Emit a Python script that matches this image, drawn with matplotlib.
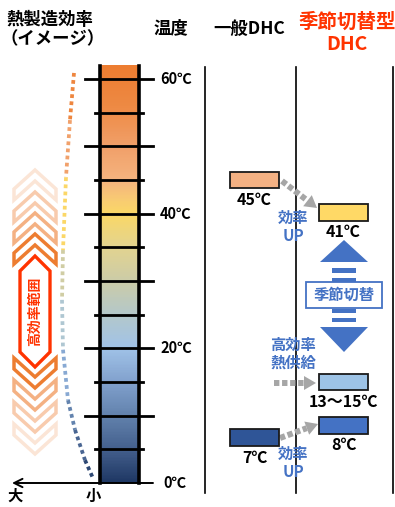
import matplotlib.pyplot as plt
import numpy as np
from matplotlib.patches import Polygon, Rectangle
from matplotlib.colors import LinearSegmentedColormap, Normalize
from matplotlib.collections import LineCollection

plt.rcParams['font.family'] = ['Noto Sans CJK JP', 'DejaVu Sans']

#==============================
# data

# temperature scale
major_temps = [0, 10, 20, 30, 40, 50, 60]
major_labels = ['0℃', '', '20℃', '', '40℃', '', '60℃']
minor_temps = [5, 15, 25, 35, 45, 55]
bar_top = 62

# colour of the temperature bar
grad_t = [0, 5, 10, 15, 20, 25, 30, 35, 40, 42, 45, 50, 56, 62]
grad_c = ['#1F3864', '#45618E', '#6383AE', '#82A2CE', '#A1C3E8', '#B4C8CA',
          '#CCCCA8', '#E3D490', '#FBD866', '#F9CC72', '#F5B47F', '#F1A06A',
          '#EE8A44', '#ED7D31']

# efficiency curve (image), x in px and temperature
curve_x = [74, 70, 66, 63, 62, 63, 68, 75, 85, 93]
curve_t = [60.9, 53.9, 45.4, 34.6, 27.2, 19.8, 12.3, 7.9, 3.4, 0.7]

# supply temperatures
box_labels = ['45℃', '41℃', '13～15℃', '8℃', '7℃']
box_temps = [45, 41, 14, 8, 7]
box_center = [45.0, 40.2, 15.0, 8.6, 6.7]
box_column = ['一般DHC', '季節切替型', '季節切替型', '季節切替型', '一般DHC']
box_colors = ['#F4B183', '#FFD966', '#9DC3E6', '#4472C4', '#2F5597']

columns = {'一般DHC': 230, '季節切替型': 319}

# chevrons
chev_up_y = [170, 192, 213, 234]
chev_up_c = ['#FBE5D6', '#F8CBAD', '#F4B183', '#ED7D31']
chev_dn_y = [388, 410, 432, 454]
chev_dn_c = ['#ED7D31', '#F4B183', '#F8CBAD', '#FBE5D6']

BLUE = '#4472C4'
RED = '#FF3300'
GRAY = '#A6A6A6'

#==============================

Y0 = 483        # pixel row of 0℃
PX = 6.733      # pixels per ℃
W, H = 395, 507

fig = plt.figure(figsize=(W / 100, H / 100), dpi=100)
ax = fig.add_axes([0, 0, 1, 1])   # pixel layout
ax.set_xlim(0, W)
ax.set_ylim(H, 0)
ax.axis('off')
axt = fig.add_axes([0, 0, 1, 1])  # temperature axis
axt.set_xlim(0, W)
axt.set_ylim((Y0 - H) / PX, Y0 / PX)
axt.axis('off')

# headers
hdr = dict(fontsize=12.5, weight='bold', va='center')
ax.text(6, 20, '熱製造効率', ha='left', **hdr)
ax.text(1, 39, '（イメージ）', ha='left', **hdr)
ax.text(171, 28, '温度', ha='center', **hdr)
ax.text(249, 29, '一般DHC', ha='center', **hdr)
ax.text(347, 22, '季節切替型', ha='center', color=RED, fontsize=14,
        weight='bold', va='center')
ax.text(347, 44, 'DHC', ha='center', color=RED, fontsize=14,
        weight='bold', va='center')

# column lines
for x in [205, 296, 393]:
    ax.plot([x, x], [67, 493], color='k', lw=1.2)

# temperature bar
cmap = LinearSegmentedColormap.from_list(
    'temp', [(t / bar_top, c) for t, c in zip(grad_t, grad_c)])
norm = Normalize(0, bar_top)
grad = np.linspace(0, bar_top, 400).reshape(-1, 1)
axt.imshow(grad, extent=[100, 139, 0, bar_top], origin='lower', aspect='auto',
           cmap=cmap, norm=norm, zorder=1)
for x in [100, 139]:
    axt.plot([x, x], [0, bar_top], color='k', lw=2.6, zorder=3)
for t, lab in zip(major_temps, major_labels):
    if t > 0:
        axt.plot([85, 153], [t, t], color='k', lw=2, zorder=3)
    if lab:
        axt.text(160 if t else 163, t, lab, ha='left', va='center',
                 fontsize=10.5, weight='bold')
for t in minor_temps:
    axt.plot([95, 143], [t, t], color='k', lw=2, zorder=3)

# efficiency axis
axt.annotate('', xy=(12, 0), xytext=(153, 0),
             arrowprops=dict(arrowstyle='->, head_length=0.6, head_width=0.3',
                             mutation_scale=10, lw=1.4, color='k',
                             shrinkA=0, shrinkB=0), zorder=4)
ax.text(15, 496, '大', ha='center', va='center', fontsize=11, weight='bold')
ax.text(93, 496, '小', ha='center', va='center', fontsize=11, weight='bold')

# dotted efficiency curve
pts = np.column_stack([curve_x, curve_t])
segs = [pts[i:i + 2] for i in range(len(pts) - 1)]
cols = [cmap(norm((curve_t[i] + curve_t[i + 1]) / 2)) for i in range(len(segs))]
axt.add_collection(LineCollection(segs, colors=cols, linewidths=2.7,
                                  linestyles=[(0, (1, 0.9))], capstyle='butt'))

# chevrons
cx, w, h, d = 35, 21, 19, 11
for a, c in zip(chev_up_y, chev_up_c):
    ax.add_patch(Polygon([(cx - w, a + h), (cx, a), (cx + w, a + h),
                          (cx + w, a + h + d), (cx, a + d), (cx - w, a + h + d)],
                         closed=True, fc='white', ec=c, lw=2.5))
for b, c in zip(chev_dn_y, chev_dn_c):
    ax.add_patch(Polygon([(cx - w, b - h - d), (cx, b - d), (cx + w, b - h - d),
                          (cx + w, b - h), (cx, b), (cx - w, b - h)],
                         closed=True, fc='white', ec=c, lw=2.5))
ax.add_patch(Polygon([(35, 256), (50, 271), (50, 352), (35, 367), (20, 352),
                      (20, 271)], closed=True, fc='white', ec=RED, lw=2.4))
ax.text(35, 311, '高効率範囲', rotation=90, ha='center', va='center',
        color=RED, fontsize=10, weight='bold')

# supply temperature boxes
bh = 2.5
for lab, tc, col, fc in zip(box_labels, box_center, box_column, box_colors):
    x0 = columns[col]
    axt.add_patch(Rectangle((x0, tc - bh / 2), 48.5, bh, fc=fc, ec='#1A1A1A',
                            lw=1.3, zorder=5))
    axt.text(x0 + 24.5, tc - 2.95, lab, ha='center', va='center',
             fontsize=11.5, weight='bold', zorder=5)

# gray dashed arrows
def gray_arrow(p0, p1, hl=12, hw=7):
    p0, p1 = np.array(p0, float), np.array(p1, float)
    u = (p1 - p0) / np.hypot(*(p1 - p0))
    n = np.array([-u[1], u[0]])
    base = p1 - u * hl
    ax.plot([p0[0], base[0]], [p0[1], base[1]], color=GRAY, lw=4.3,
            linestyle=(0, (0.9, 0.45)), solid_capstyle='butt',
            dash_capstyle='butt', zorder=4)
    ax.add_patch(Polygon([p1, base + n * hw, base - n * hw], closed=True,
                         fc=GRAY, ec='none', zorder=4))

gray_arrow((282, 181), (317, 208))
gray_arrow((274, 383), (316, 383))
gray_arrow((280, 438), (318, 424))

# blue notes
note = dict(color=BLUE, fontsize=11, weight='bold', ha='center', va='center',
            zorder=6)
ax.text(293, 218, '効率', **note)
ax.text(293, 236, 'UP', **note)
ax.text(293, 345, '高効率', **note)
ax.text(293, 363, '熱供給', **note)
ax.text(293, 454, '効率', **note)
ax.text(293, 472, 'UP', **note)

# seasonal switch double arrow
ax.add_patch(Polygon([(320, 262), (344, 240), (368, 262)], closed=True,
                     fc=BLUE, ec='none'))
ax.add_patch(Polygon([(320, 327), (344, 352), (368, 327)], closed=True,
                     fc=BLUE, ec='none'))
for y0, y1 in [(268, 272.5), (277.5, 282), (309, 313), (317.5, 321.5)]:
    ax.add_patch(Rectangle((332, y0), 24, y1 - y0, fc=BLUE, ec='none'))
ax.add_patch(Rectangle((306, 282), 76, 26, fc='white', ec=BLUE, lw=1.3))
ax.text(344, 295, '季節切替', **note)

fig.savefig('out.png', dpi=100)
